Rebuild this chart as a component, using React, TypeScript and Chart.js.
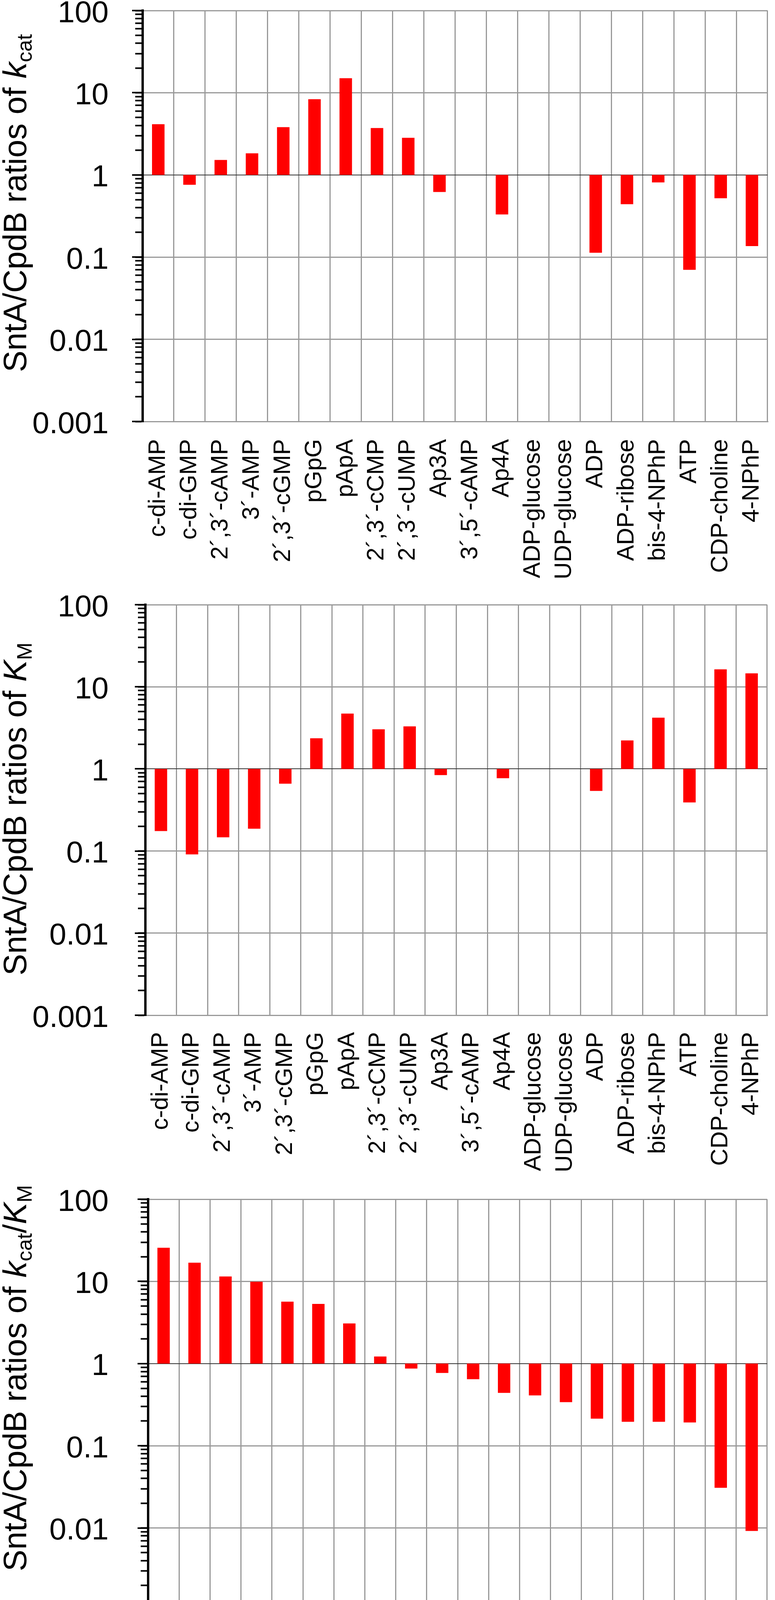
import React, { useEffect, useRef } from "react";
import { Chart, registerables } from "chart.js";

Chart.register(...registerables);

// substrates on the x axis (same order in all three panels)
const substrates = [
  "c-di-AMP",
  "c-di-GMP",
  "2´,3´-cAMP",
  "3´-AMP",
  "2´,3´-cGMP",
  "pGpG",
  "pApA",
  "2´,3´-cCMP",
  "2´,3´-cUMP",
  "Ap3A",
  "3´,5´-cAMP",
  "Ap4A",
  "ADP-glucose",
  "UDP-glucose",
  "ADP",
  "ADP-ribose",
  "bis-4-NPhP",
  "ATP",
  "CDP-choline",
  "4-NPhP",
];

// SntA/CpdB ratios (null = not measured)
const kcatRatio = [4.14, 0.76, 1.52, 1.83, 3.81, 8.33, 15.0, 3.72, 2.83, 0.62, null, 0.33, null, null, 0.113, 0.44, 0.81, 0.07, 0.52, 0.136];
const kmRatio = [0.175, 0.091, 0.147, 0.187, 0.66, 2.36, 4.72, 3.04, 3.3, 0.84, null, 0.77, null, null, 0.54, 2.22, 4.21, 0.39, 16.3, 14.6];
const efficiencyRatio = [25.7, 16.9, 11.5, 9.9, 5.67, 5.32, 3.08, 1.22, 0.87, 0.77, 0.645, 0.44, 0.41, 0.34, 0.214, 0.196, 0.196, 0.192, 0.0308, 0.0092];

// y axis decades (labelled) – minor ticks 2..9 between them
const decades = [0.001, 0.01, 0.1, 1, 10, 100];
const decadeLabels = ["0.001", "0.01", "0.1", "1", "10", "100"];

const FONT = "'Liberation Sans', Arial, Helvetica, sans-serif";
const GRID = "#999999";
const W = 1983;
const LABEL_RIGHT = 278; // right edge of the y tick numbers
const MINOR_TICK = 19;
const MAJOR_TICK = 27;

type Seg = { text: string; italic?: boolean; sub?: boolean };

const lead: Seg = { text: "SntA/CpdB ratios of " };
const kcatTitle: Seg[] = [lead, { text: "k", italic: true }, { text: "cat", sub: true }];
const kmTitle: Seg[] = [lead, { text: "K", italic: true }, { text: "M", sub: true }];
const effTitle: Seg[] = [
  lead,
  { text: "k", italic: true },
  { text: "cat", sub: true },
  { text: "/" },
  { text: "K", italic: true },
  { text: "M", sub: true },
];

const isDecade = (v: number) => Math.abs(Math.log10(v) - Math.round(Math.log10(v))) < 1e-6;

function logTicks() {
  const out: { value: number; major: boolean }[] = [];
  decades.forEach((d, i) => {
    out.push({ value: d, major: true });
    if (i < decades.length - 1) {
      for (let m = 2; m <= 9; m++) out.push({ value: +(d * m).toPrecision(3), major: false });
    }
  });
  return out;
}

// decade numbers (and the longer decade tick marks) placed with the y scale
const yNumbersPlugin = {
  id: "yNumbers",
  afterDraw(chart: Chart) {
    const ctx = chart.ctx;
    const y = chart.scales.y;
    const axisX = chart.chartArea.left;
    ctx.save();
    ctx.strokeStyle = "#000";
    ctx.lineWidth = 4;
    decades.forEach((d) => {
      const py = Math.round(y.getPixelForValue(d));
      ctx.beginPath();
      ctx.moveTo(axisX - MAJOR_TICK, py);
      ctx.lineTo(axisX, py);
      ctx.stroke();
    });
    ctx.font = `78px ${FONT}`;
    ctx.fillStyle = "#000";
    ctx.textAlign = "right";
    ctx.textBaseline = "middle";
    decades.forEach((d, i) => {
      ctx.fillText(decadeLabels[i], LABEL_RIGHT, y.getPixelForValue(d) + 8);
    });
    ctx.restore();
  },
};

const yTitlePlugin = (segs: Seg[], baseX: number, centerY: number) => ({
  id: "yTitle",
  afterDraw(chart: Chart) {
    const ctx = chart.ctx;
    const size = 83;
    const subSize = Math.round(size * 0.65);
    const fontOf = (s: Seg) => `${s.italic ? "italic " : ""}${s.sub ? subSize : size}px ${FONT}`;
    ctx.save();
    let total = 0;
    const widths = segs.map((s) => {
      ctx.font = fontOf(s);
      const w = ctx.measureText(s.text).width;
      total += w;
      return w;
    });
    ctx.translate(baseX, centerY);
    ctx.rotate(-Math.PI / 2);
    ctx.fillStyle = "#000";
    ctx.textAlign = "left";
    ctx.textBaseline = "alphabetic";
    let x = -total / 2;
    segs.forEach((s, i) => {
      ctx.font = fontOf(s);
      ctx.fillText(s.text, x, s.sub ? size * 0.17 : 0);
      x += widths[i];
    });
    ctx.restore();
  },
});

type Geo = {
  top: number;
  height: number;
  plotTop: number;
  plotBottom: number;
  plotLeft: number;
  plotRight: number;
  labelGap: number;
  titleY: number;
};

function RatioChart({ values, title, geo }: { values: (number | null)[]; title: Seg[]; geo: Geo }) {
  const canvasRef = useRef<HTMLCanvasElement>(null);

  useEffect(() => {
    const chart = new Chart(canvasRef.current!, {
      type: "bar",
      data: {
        labels: substrates,
        datasets: [
          {
            data: values.map((v) => (v === null ? null : [1, v])) as any,
            backgroundColor: "#ff0000",
            borderWidth: 0,
            barPercentage: 0.4,
            categoryPercentage: 1,
          },
        ],
      },
      options: {
        animation: false,
        responsive: false,
        devicePixelRatio: 1,
        layout: {
          padding: { top: geo.plotTop, right: W - geo.plotRight, bottom: 0, left: 0 },
        },
        plugins: {
          legend: { display: false },
          tooltip: { enabled: false },
        },
        scales: {
          x: {
            afterFit: (scale: any) => {
              scale.height = geo.height - geo.plotBottom;
              scale.paddingLeft = 0;
              scale.paddingRight = 0;
            },
            grid: { color: GRID, lineWidth: 3, drawTicks: false, offset: true },
            border: { color: GRID, width: 3 },
            ticks: {
              autoSkip: false,
              maxRotation: 90,
              minRotation: 90,
              padding: geo.labelGap,
              color: "#000",
              font: { size: 61, family: FONT },
            },
          },
          y: {
            type: "logarithmic",
            min: 0.001,
            max: 100,
            afterBuildTicks: (scale: any) => {
              scale.ticks = logTicks();
            },
            afterFit: (scale: any) => {
              scale.width = geo.plotLeft;
              scale.paddingTop = 0;
              scale.paddingBottom = 0;
            },
            grid: {
              color: (c: any) =>
                !isDecade(c.tick.value) ? "rgba(0,0,0,0)" : c.tick.value === 1 ? "#333333" : GRID,
              lineWidth: (c: any) => (c.tick && c.tick.value === 1 ? 2 : 3),
              tickColor: "#000",
              tickWidth: 4,
              tickLength: MINOR_TICK,
            },
            border: { color: "#000", width: 6 },
            ticks: { display: false, autoSkip: false },
          },
        },
      },
      plugins: [yNumbersPlugin, yTitlePlugin(title, 67, geo.titleY)],
    });
    return () => chart.destroy();
  }, [values, title, geo]);

  return (
    <div style={{ position: "absolute", left: 0, top: geo.top, width: W, height: geo.height }}>
      <canvas ref={canvasRef} width={W} height={geo.height} style={{ display: "block", width: W, height: geo.height }} />
    </div>
  );
}

const panels: { values: (number | null)[]; title: Seg[]; geo: Geo }[] = [
  {
    values: kcatRatio,
    title: kcatTitle,
    geo: { top: 0, height: 1515, plotTop: 27, plotBottom: 1079, plotLeft: 365, plotRight: 1964, labelGap: 45, titleY: 520 },
  },
  {
    values: kmRatio,
    title: kmTitle,
    geo: { top: 1515, height: 1500, plotTop: 33, plotBottom: 1084, plotLeft: 372, plotRight: 1963, labelGap: 43, titleY: 556 },
  },
  {
    values: efficiencyRatio,
    title: effTitle,
    geo: { top: 3015, height: 1518, plotTop: 55, plotBottom: 1107, plotLeft: 379, plotRight: 1963, labelGap: 36, titleY: 513 },
  },
];

export default function App() {
  return (
    <>
      <style>{"body{margin:0;background:#fff}"}</style>
      <div style={{ position: "relative", width: W, height: 4533, background: "#fff" }}>
        {panels.map((p, i) => (
          <RatioChart key={i} values={p.values} title={p.title} geo={p.geo} />
        ))}
      </div>
    </>
  );
}
